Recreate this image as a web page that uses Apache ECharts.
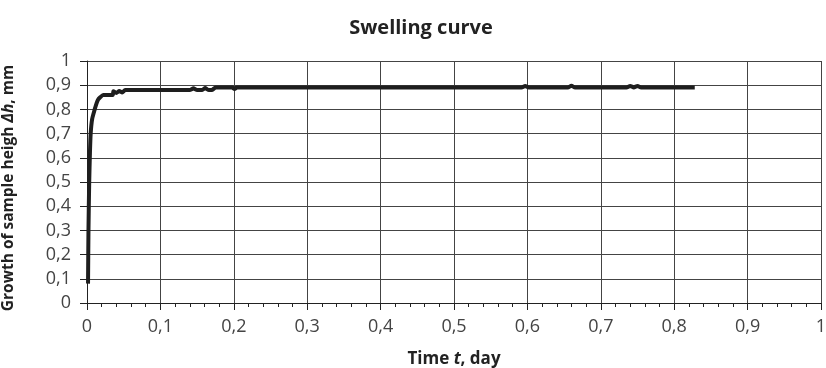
<!DOCTYPE html>
<html>
<head>
<meta charset="utf-8">
<script src="https://cdn.jsdelivr.net/npm/echarts@6/dist/echarts.min.js"></script>
<style>
  html, body { margin: 0; padding: 0; background: #fff; }
  #chart { width: 826px; height: 368px; }
</style>
</head>
<body>
<div id="chart"></div>
<script>
// time, day
const timeDays = [
  0.0014, 0.002, 0.003, 0.004, 0.005, 0.007, 0.0105, 0.013, 0.015, 0.018,
  0.022, 0.035, 0.036, 0.04, 0.044, 0.048, 0.052, 0.14, 0.145, 0.15,
  0.157, 0.161, 0.166, 0.17, 0.175, 0.198, 0.201, 0.204, 0.592, 0.597,
  0.602, 0.655, 0.66, 0.665, 0.735, 0.74, 0.745, 0.75, 0.755, 0.828
];
// growth of sample height, mm
const growthMm = [
  0.08, 0.3, 0.5, 0.62, 0.7, 0.76, 0.8, 0.825, 0.84, 0.85,
  0.86, 0.86, 0.875, 0.868, 0.876, 0.87, 0.88, 0.88, 0.887, 0.88,
  0.88, 0.888, 0.88, 0.88, 0.89, 0.89, 0.884, 0.89, 0.89, 0.897,
  0.89, 0.89, 0.898, 0.89, 0.89, 0.897, 0.891, 0.897, 0.89, 0.89
];
const tickLabels = ['0', '0,1', '0,2', '0,3', '0,4', '0,5', '0,6', '0,7', '0,8', '0,9', '1'];

const fmt = v => tickLabels[Math.round(v * 10)];
const FONT = 'Open Sans';

const nameStyle = (size, pad) => ({
  fontFamily: FONT, fontWeight: 'bold', fontSize: size, color: '#222',
  padding: pad,
  rich: { i: { fontFamily: FONT, fontWeight: 'bold', fontStyle: 'italic', fontSize: size, color: '#222' } }
});

const chart = echarts.init(document.getElementById('chart'));

const option = {
  animation: false,
  textStyle: { fontFamily: FONT },
  title: {
    text: 'Swelling curve',
    left: 416,
    textAlign: 'center',
    top: 13,
    textStyle: { fontFamily: FONT, fontWeight: 'bold', fontSize: 20, color: '#222' }
  },
  grid: { left: 87, right: 5, top: 61, bottom: 65, outerBoundsMode: 'none', containLabel: false },
  xAxis: {
    type: 'value',
    min: 0, max: 1, interval: 0.1,
    name: 'Time {i|t}, day',
    nameLocation: 'middle',
    nameGap: 48,
    nameTextStyle: nameStyle(17, 0),
    axisLine: { lineStyle: { color: '#222', width: 1 } },
    axisTick: { show: true, inside: false, length: 7, lineStyle: { color: '#222' } },
    minorTick: { show: true, splitNumber: 5, length: 4, lineStyle: { color: '#222' } },
    splitLine: { show: true, lineStyle: { color: '#444', width: 1 } },
    axisLabel: { formatter: fmt, fontSize: 18, color: '#444', margin: 15 }
  },
  yAxis: {
    type: 'value',
    min: 0, max: 1, interval: 0.1,
    name: 'Growth of sample heigh {i|Δh}, mm',
    nameLocation: 'middle',
    nameGap: 70,
    nameTextStyle: nameStyle(15.5, [0, 12, 0, 0]),
    axisLine: { show: true, lineStyle: { color: '#222', width: 1 } },
    axisTick: { show: true, inside: false, length: 7, lineStyle: { color: '#222' } },
    splitLine: { show: true, lineStyle: { color: '#444', width: 1 } },
    axisLabel: { formatter: fmt, fontSize: 18, color: '#444', margin: 16 }
  },
  series: [{
    type: 'line',
    data: timeDays.map((t, i) => [t, growthMm[i]]),
    showSymbol: false,
    smooth: 0.2,
    lineStyle: { color: '#1e1e1e', width: 4 }
  }]
};

chart.setOption(option);
</script>
</body>
</html>
